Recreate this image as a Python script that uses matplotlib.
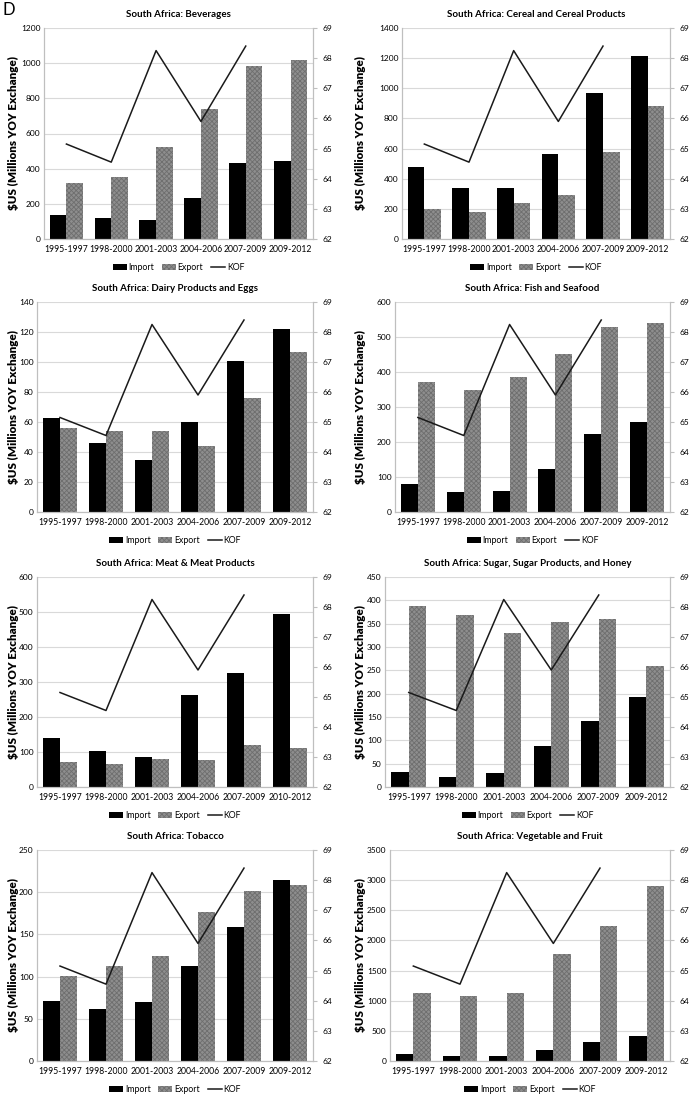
import matplotlib
matplotlib.use("Agg")
import matplotlib.pyplot as plt
import numpy as np

plt.rcParams['font.family'] = ['Lato', 'DejaVu Sans']
plt.rcParams['hatch.linewidth'] = 0.6

periods = ['1995-1997', '1998-2000', '2001-2003', '2004-2006', '2007-2009', '2009-2012']
periods_meat = ['1995-1997', '1998-2000', '2001-2003', '2004-2006', '2007-2009', '2010-2012']

# KOF globalisation index (no value for the last period)
kof = [65.15, 64.55, 68.25, 65.9, 68.4, np.nan]

titles = ['South Africa: Beverages', 'South Africa: Cereal and Cereal Products',
          'South Africa: Dairy Products and Eggs', 'South Africa: Fish and Seafood',
          'South Africa: Meat & Meat Products', 'South Africa: Sugar, Sugar Products, and Honey',
          'South Africa: Tobacco', 'South Africa: Vegetable and Fruit']

beverages_import = [135, 122, 108, 233, 435, 443]
beverages_export = [316, 352, 522, 737, 985, 1018]
cereal_import = [477, 340, 340, 566, 970, 1215]
cereal_export = [197, 180, 242, 292, 578, 885]
dairy_import = [63, 46, 35, 60, 101, 122]
dairy_export = [56, 54, 54, 44, 76, 107]
fish_import = [80, 57, 60, 123, 222, 258]
fish_export = [371, 350, 386, 451, 530, 540]
meat_import = [141, 103, 87, 264, 327, 495]
meat_export = [72, 66, 81, 77, 121, 111]
sugar_import = [32, 22, 29, 87, 142, 192]
sugar_export = [388, 368, 331, 354, 359, 259]
tobacco_import = [71, 62, 70, 113, 159, 214]
tobacco_export = [101, 113, 124, 176, 201, 209]
veg_import = [120, 90, 85, 175, 320, 420]
veg_export = [1120, 1075, 1130, 1770, 2240, 2900]

imports = [beverages_import, cereal_import, dairy_import, fish_import,
           meat_import, sugar_import, tobacco_import, veg_import]
exports = [beverages_export, cereal_export, dairy_export, fish_export,
           meat_export, sugar_export, tobacco_export, veg_export]
y_max = [1200, 1400, 140, 600, 600, 450, 250, 3500]
y_step = [200, 200, 20, 100, 100, 50, 50, 500]

W, H = 691, 1094
# panel boxes in pixels: left, top, right, bottom
boxes = [(44, 28, 313, 239), (402, 28, 670, 239),
         (37, 302, 313, 512), (395, 302, 670, 512),
         (37, 577, 313, 787), (385, 577, 670, 787),
         (37, 850, 313, 1061), (390, 850, 670, 1061)]
# right edge of the rotated y label, pixels
ylabel_x = [19, 366]

fig = plt.figure(figsize=(W / 100, H / 100), dpi=100)
fig.text(2 / W, 1 - 10 / H, 'D', fontsize=12, va='center', ha='left')

grid_c = '#d9d9d9'
spine_c = '#bfbfbf'

for i in range(8):
    l, t, r, b = boxes[i]
    ax = fig.add_axes([l / W, 1 - b / H, (r - l) / W, (b - t) / H])
    x = np.arange(len(periods))
    w = 0.37
    ax.bar(x - w / 2, imports[i], w, color='black', label='Import', zorder=2)
    ax.bar(x + w / 2, exports[i], w, color='#8e8e8e', hatch='xxxxxxx', edgecolor='#6e6e6e',
           linewidth=0, label='Export', zorder=2)
    ax.set_ylim(0, y_max[i])
    ax.set_yticks(np.arange(0, y_max[i] + 1, y_step[i]))
    ax.set_xlim(-0.5, len(periods) - 0.5)
    ax.set_xticks(x)
    ax.set_xticklabels(periods_meat if i == 4 else periods, fontsize=6.2)
    ax.tick_params(axis='y', labelsize=6, length=0, pad=2.5)
    ax.tick_params(axis='x', length=0, pad=4)
    ax.grid(axis='y', color=grid_c, linewidth=0.8, zorder=0)
    ax.set_axisbelow(True)
    ax.spines['top'].set_visible(False)
    for s in ['left', 'right', 'bottom']:
        ax.spines[s].set_color(spine_c)
    ax.set_title(titles[i], fontsize=7, fontweight='bold', pad=8)
    ax.set_ylabel('$US (Millions YOY Exchange)', fontsize=8.4, fontweight='heavy')
    ax.yaxis.set_label_coords((ylabel_x[i % 2] - l) / (r - l), 0.5)

    ax2 = ax.twinx()
    ax2.plot(x, kof, color='#1a1a1a', linewidth=1.1, label='KOF', zorder=3)
    ax2.set_ylim(62, 69)
    ax2.set_yticks(range(62, 70))
    ax2.tick_params(axis='y', labelsize=6, length=3, color=spine_c, pad=4)
    ax2.spines['top'].set_visible(False)
    for s in ['left', 'right', 'bottom']:
        ax2.spines[s].set_color(spine_c)

    h1, l1 = ax.get_legend_handles_labels()
    h2, l2 = ax2.get_legend_handles_labels()
    ax.legend(h1 + h2, l1 + l2, loc='center', bbox_to_anchor=(0.5, -0.135), ncol=3,
              frameon=False, fontsize=6.3, handlelength=1.6, handleheight=0.7,
              handletextpad=0.2, columnspacing=0.9)

plt.savefig('out.png', dpi=100)
